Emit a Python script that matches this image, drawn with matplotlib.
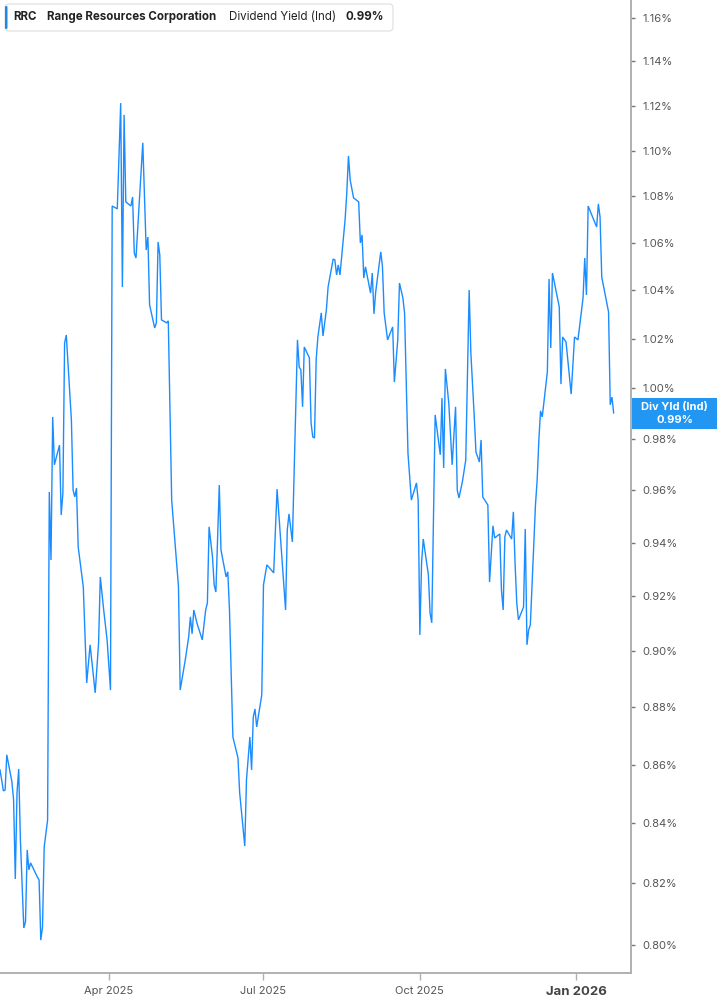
import matplotlib
matplotlib.use("Agg")
import matplotlib.pyplot as plt
import matplotlib.dates as mdates
from matplotlib.patches import FancyBboxPatch, Rectangle
from matplotlib.transforms import IdentityTransform
from matplotlib.ticker import NullLocator, NullFormatter
import pandas as pd

# ---------------- data ----------------
dates = [
    "2025-01-27", "2025-01-29", "2025-01-30", "2025-01-31", "2025-02-03", "2025-02-04", "2025-02-05",
    "2025-02-06", "2025-02-07", "2025-02-08", "2025-02-10", "2025-02-11", "2025-02-12", "2025-02-13",
    "2025-02-14", "2025-02-18", "2025-02-19", "2025-02-20", "2025-02-21", "2025-02-22", "2025-02-24",
    "2025-02-25", "2025-02-26", "2025-02-27", "2025-02-28", "2025-03-03", "2025-03-04", "2025-03-05",
    "2025-03-06", "2025-03-07", "2025-03-10", "2025-03-11", "2025-03-12", "2025-03-13", "2025-03-14",
    "2025-03-17", "2025-03-19", "2025-03-21", "2025-03-24", "2025-03-26", "2025-03-27", "2025-03-29",
    "2025-03-31", "2025-04-02", "2025-04-03", "2025-04-06", "2025-04-08", "2025-04-09", "2025-04-10",
    "2025-04-11", "2025-04-14", "2025-04-15", "2025-04-16", "2025-04-17", "2025-04-21", "2025-04-23",
    "2025-04-24", "2025-04-25", "2025-04-28", "2025-04-29", "2025-04-30", "2025-05-01", "2025-05-02",
    "2025-05-05", "2025-05-06", "2025-05-08", "2025-05-12", "2025-05-13", "2025-05-16", "2025-05-18",
    "2025-05-19", "2025-05-20", "2025-05-21", "2025-05-23", "2025-05-26", "2025-05-28", "2025-05-29",
    "2025-05-30", "2025-06-01", "2025-06-02", "2025-06-03", "2025-06-04", "2025-06-05", "2025-06-06",
    "2025-06-09", "2025-06-10", "2025-06-11", "2025-06-13", "2025-06-16", "2025-06-17", "2025-06-20",
    "2025-06-21", "2025-06-23", "2025-06-24", "2025-06-25", "2025-06-26", "2025-06-27", "2025-06-30",
    "2025-07-01", "2025-07-03", "2025-07-07", "2025-07-09", "2025-07-11", "2025-07-14", "2025-07-15",
    "2025-07-16", "2025-07-18", "2025-07-21", "2025-07-22", "2025-07-23", "2025-07-24", "2025-07-25",
    "2025-07-28", "2025-07-29", "2025-07-30", "2025-07-31", "2025-08-01", "2025-08-02", "2025-08-04",
    "2025-08-05", "2025-08-07", "2025-08-08", "2025-08-11", "2025-08-12", "2025-08-13", "2025-08-14",
    "2025-08-15", "2025-08-18", "2025-08-19", "2025-08-20", "2025-08-21", "2025-08-23", "2025-08-26",
    "2025-08-27", "2025-08-28", "2025-08-29", "2025-08-30", "2025-09-02", "2025-09-03", "2025-09-04",
    "2025-09-05", "2025-09-08", "2025-09-09", "2025-09-10", "2025-09-12", "2025-09-15", "2025-09-16",
    "2025-09-18", "2025-09-19", "2025-09-21", "2025-09-22", "2025-09-24", "2025-09-26", "2025-09-29",
    "2025-09-30", "2025-10-01", "2025-10-02", "2025-10-03", "2025-10-06", "2025-10-07", "2025-10-08",
    "2025-10-10", "2025-10-13", "2025-10-14", "2025-10-15", "2025-10-16", "2025-10-18", "2025-10-20",
    "2025-10-22", "2025-10-23", "2025-10-24", "2025-10-26", "2025-10-28", "2025-10-30", "2025-10-31",
    "2025-11-02", "2025-11-03", "2025-11-05", "2025-11-06", "2025-11-07", "2025-11-10", "2025-11-11",
    "2025-11-13", "2025-11-14", "2025-11-17", "2025-11-18", "2025-11-19", "2025-11-20", "2025-11-21",
    "2025-11-24", "2025-11-25", "2025-11-26", "2025-11-27", "2025-11-28", "2025-12-01", "2025-12-02",
    "2025-12-03", "2025-12-04", "2025-12-05", "2025-12-07", "2025-12-08", "2025-12-09", "2025-12-10",
    "2025-12-11", "2025-12-12", "2025-12-15", "2025-12-16", "2025-12-17", "2025-12-18", "2025-12-22",
    "2025-12-23", "2025-12-24", "2025-12-26", "2025-12-29", "2025-12-31", "2026-01-02", "2026-01-05",
    "2026-01-06", "2026-01-07", "2026-01-08", "2026-01-13", "2026-01-14", "2026-01-15", "2026-01-16",
    "2026-01-20", "2026-01-21", "2026-01-22", "2026-01-23",
]

div_yield = [
    0.8582, 0.8510, 0.8513, 0.8634, 0.8541, 0.8479, 0.8215,
    0.8503, 0.8585, 0.8344, 0.8055, 0.8075, 0.8311, 0.8245,
    0.8268, 0.8221, 0.8211, 0.8016, 0.8058, 0.8321, 0.8411,
    0.9593, 0.9335, 0.9886, 0.9698, 0.9775, 0.9505, 0.9589,
    1.0183, 1.0216, 0.9874, 0.9600, 0.9574, 0.9608, 0.9384,
    0.9235, 0.8886, 0.9023, 0.8851, 0.9030, 0.9272, 0.9150,
    0.9041, 0.8861, 1.0758, 1.0746, 1.1211, 1.0414, 1.1158,
    1.0776, 1.0758, 1.0797, 1.0557, 1.0536, 1.1034, 1.0570,
    1.0625, 1.0340, 1.0245, 1.0266, 1.0604, 1.0549, 1.0278,
    1.0266, 1.0274, 0.9562, 0.9235, 0.8861, 0.8969, 0.9052,
    0.9125, 0.9063, 0.9150, 0.9099, 0.9041, 0.9150, 0.9176,
    0.9460, 0.9347, 0.9242, 0.9216, 0.9422, 0.9620, 0.9373,
    0.9272, 0.9291, 0.9150, 0.8696, 0.8623, 0.8503, 0.8324,
    0.8548, 0.8696, 0.8582, 0.8766, 0.8794, 0.8731, 0.8844,
    0.9242, 0.9317, 0.9287, 0.9604, 0.9422, 0.9150, 0.9448,
    0.9509, 0.9403, 1.0196, 1.0086, 1.0074, 0.9926, 1.0167,
    1.0123, 0.9862, 0.9807, 0.9803, 1.0115, 1.0208, 1.0307,
    1.0212, 1.0319, 1.0414, 1.0532, 1.0528, 1.0465, 1.0507,
    1.0465, 1.0698, 1.0814, 1.0976, 1.0871, 1.0793, 1.0776,
    1.0600, 1.0634, 1.0452, 1.0499, 1.0389, 1.0473, 1.0303,
    1.0393, 1.0562, 1.0499, 1.0307, 1.0196, 1.0249, 1.0025,
    1.0196, 1.0431, 1.0369, 1.0307, 0.9744, 0.9562, 0.9628,
    0.9562, 0.9059, 0.9324, 0.9414, 0.9280, 0.9139, 0.9103,
    0.9894, 0.9737, 0.9961, 0.9686, 1.0078, 0.9942, 0.9698,
    0.9926, 0.9600, 0.9570, 0.9632, 0.9717, 1.0402, 1.0143,
    0.9886, 0.9748, 0.9709, 0.9795, 0.9574, 0.9543, 0.9253,
    0.9464, 0.9418, 0.9433, 0.9224, 0.9150, 0.9422, 0.9448,
    0.9414, 0.9517, 0.9324, 0.9176, 0.9114, 0.9161, 0.9452,
    0.9023, 0.9077, 0.9096, 0.9391, 0.9543, 0.9639, 0.9795,
    0.9910, 0.9886, 1.0066, 1.0448, 1.0163, 1.0473, 1.0332,
    1.0017, 1.0208, 1.0187, 0.9977, 1.0208, 1.0196, 1.0369,
    1.0536, 1.0381, 1.0758, 1.0668, 1.0767, 1.0711, 1.0456,
    1.0311, 0.9934, 0.9965, 0.9902,
]

ytick_values = [0.80, 0.82, 0.84, 0.86, 0.88, 0.90, 0.92, 0.94, 0.96, 0.98,
                1.00, 1.02, 1.04, 1.06, 1.08, 1.10, 1.12, 1.14, 1.16]
xtick_dates = ["2025-04-01", "2025-07-01", "2025-10-01", "2026-01-01"]
xtick_labels = ["Apr 2025", "Jul 2025", "Oct 2025", "Jan 2026"]

ticker = "RRC"
company = "Range Resources Corporation"
metric = "Dividend Yield (Ind)"
last_label = "Div Yld (Ind)"
last_value = 0.99

# ---------------- style ----------------
plt.rcParams["font.family"] = ["Inter", "DejaVu Sans"]
LINE_BLUE = "#1a8cff"
BOX_BLUE = "#2196f3"
AXIS_GRAY = "#b0b0b0"
TEXT_GRAY = "#555555"

W, H = 717, 1005
fig = plt.figure(figsize=(W / 100, H / 100), dpi=100)
ax = fig.add_axes([0, 32 / H, 631 / W, 1 - 32 / H])

x = pd.to_datetime(dates)
ax.plot(x, div_yield, color=LINE_BLUE, lw=1.0, solid_joinstyle="miter")

ax.set_yscale("log")
ax.set_ylim(0.7911, 1.1684)
ax.set_xlim(pd.Timestamp("2025-01-27"), pd.Timestamp("2026-02-02 05:00"))

ax.yaxis.tick_right()
ax.set_yticks(ytick_values)
ax.set_yticklabels([f"{v:.2f}%" for v in ytick_values])
ax.yaxis.set_minor_locator(NullLocator())
ax.yaxis.set_minor_formatter(NullFormatter())

ax.set_xticks(pd.to_datetime(xtick_dates))
ax.set_xticklabels(xtick_labels)

for s in ["left", "top"]:
    ax.spines[s].set_visible(False)
for s in ["right", "bottom"]:
    ax.spines[s].set_color(AXIS_GRAY)
    ax.spines[s].set_linewidth(1.4)

ax.tick_params(axis="y", which="major", direction="out", length=3, width=1,
               color="#777777", pad=5, labelsize=8, labelcolor=TEXT_GRAY)
ax.tick_params(axis="x", which="major", direction="out", length=5, width=1,
               color=AXIS_GRAY, pad=4, labelsize=8, labelcolor=TEXT_GRAY)
for lab in ax.get_xticklabels():
    if lab.get_text() == "Jan 2026":
        lab.set_fontweight("bold")
        lab.set_fontsize(9.5)
        lab.set_color("#444444")

# ---------------- last value box on the right ----------------
x0 = ax.get_xlim()[0]
ypx = ax.transData.transform((x0, last_value))[1]
fig.patches.append(Rectangle((632, ypx - 15.5), 85, 31, transform=IdentityTransform(),
                             facecolor=BOX_BLUE, edgecolor="none", figure=fig))
fig.text(674.5, ypx + 6.5, last_label, transform=IdentityTransform(), ha="center", va="center",
         color="white", fontsize=8, fontweight="bold")
fig.text(674.5, ypx - 6.5, f"{last_value:.2f}%", transform=IdentityTransform(), ha="center",
         va="center", color="white", fontsize=8, fontweight="bold")

# ---------------- header legend ----------------
fig.patches.append(FancyBboxPatch((5, H - 31), 388, 27, boxstyle="round,pad=0,rounding_size=4",
                                  transform=IdentityTransform(), facecolor="white",
                                  edgecolor="#e4e4e4", lw=1, figure=fig))
fig.patches.append(FancyBboxPatch((5, H - 29), 2.5, 23, boxstyle="round,pad=0,rounding_size=1.2",
                                  transform=IdentityTransform(), facecolor="#1e88e5",
                                  edgecolor="none", figure=fig))
ty = H - 17
LEG_FS = 8.3
fig.text(13, ty, ticker, transform=IdentityTransform(), ha="left", va="center",
         fontsize=LEG_FS, fontweight="bold", color="#222222")
fig.text(47, ty, company, transform=IdentityTransform(), ha="left", va="center",
         fontsize=LEG_FS, fontweight="bold", color="#222222")
fig.text(229, ty, metric, transform=IdentityTransform(), ha="left", va="center",
         fontsize=LEG_FS, color="#222222")
fig.text(345, ty, f"{last_value:.2f}%", transform=IdentityTransform(), ha="left", va="center",
         fontsize=LEG_FS, fontweight="bold", color="#222222")

fig.savefig("out.png", dpi=100)
